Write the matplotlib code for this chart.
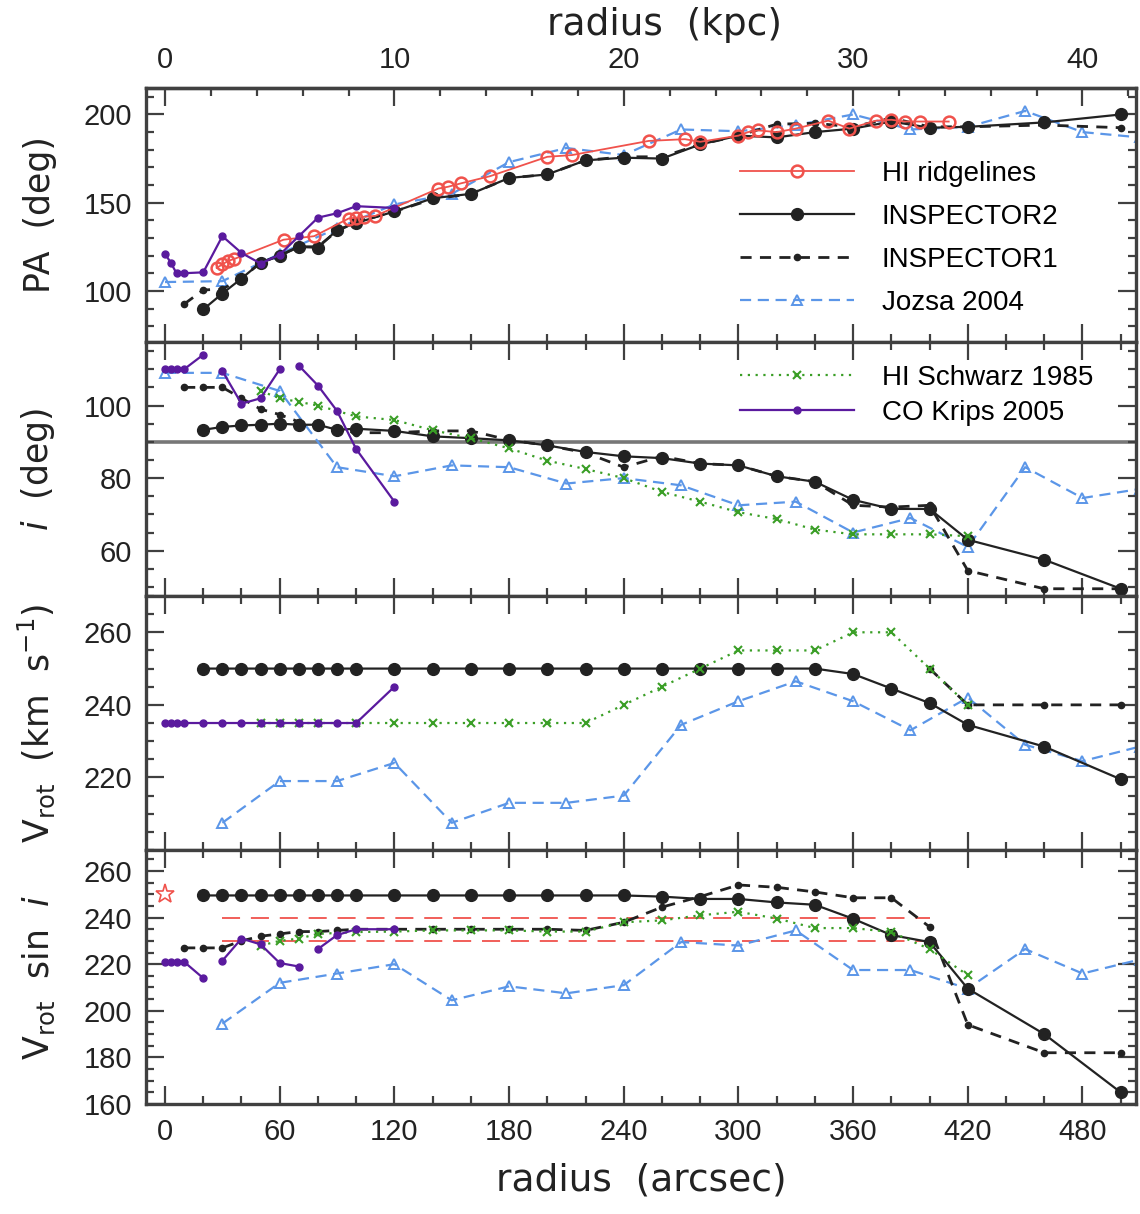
import numpy as np
import matplotlib
matplotlib.use('Agg')
import matplotlib.pyplot as plt
from matplotlib.ticker import MultipleLocator, FixedLocator

plt.rcParams['font.family'] = ['Liberation Sans', 'DejaVu Sans']
plt.rcParams['mathtext.fontset'] = 'custom'
plt.rcParams['mathtext.rm'] = 'DejaVu Sans'
plt.rcParams['mathtext.it'] = 'DejaVu Sans:italic'

nan = np.nan

# radii (arcsec) of each data set
r_insp2 = [20, 30, 40, 50, 60, 70, 80, 90, 100, 120, 140, 160, 180, 200, 220, 240,
           260, 280, 300, 320, 340, 360, 380, 400, 420, 460, 500]
r_insp1 = [10] + r_insp2
r_jozsa = [0, 30, 60, 90, 120, 150, 180, 210, 240, 270, 300, 330, 360, 390, 420, 450, 480, 510]
r_schwarz = [50, 60, 70, 80, 100, 120, 140, 160, 180, 200, 220, 240, 260, 280, 300, 320,
             340, 360, 380, 400, 420]
r_krips = [0, 3, 6, 10, 20, 30, 40, 50, 60, 70, 80, 90, 100, 120]
r_ridge = [27, 30, 33, 36, 62, 78, 96, 100, 104, 110, 143, 148, 155, 170, 200, 213, 253,
           272, 280, 300, 305, 310, 320, 330, 347, 358, 372, 380, 387, 395, 410]

# position angle (deg)
pa_ridge = [113, 115, 117, 118, 129, 131, 141, 141.5, 142, 142.5, 158, 159, 161, 165, 176,
            177, 185, 186, 184.5, 188, 190, 191, 190, 192, 196.5, 192, 196.5, 197, 196, 196, 196]
pa_insp2 = [89.5, 98.5, 107, 116, 120, 125, 124.5, 134.5, 138.5, 145, 152.5, 155, 164, 166,
            174, 175.5, 175, 183, 188, 187, 190, 192, 196, 192.5, 193, 195.5, 200]
pa_insp1 = [92.5, 100.5, 101, 107, 116, 120, 125, 125, 134, 139, 145, 152, 155, 164, 166,
            174, 176, 176, 183, 188, 194.5, 195, 193, 198, 193, 193, 194, 192.5]
pa_jozsa = [105, 105.5, 121, 135.5, 149, 155, 173, 181, 177, 191.5, 190.5, 194, 200, 191.5,
            193, 202, 190, 187]
pa_krips = [121, 116, 110, 110, 110.5, 131, 121.5, 115.5, 120.5, 131, 141.5, 144, 148, 147]

# inclination (deg)
inc_insp2 = [93.3, 94.1, 94.5, 94.7, 95, 94.7, 94.7, 93.3, 93.6, 93, 91.5, 91, 90.4, 89, 87.2,
             86, 85.5, 84, 83.5, 80.5, 79, 74, 71.5, 71.5, 63, 57.5, 49.5]
inc_insp1 = [105, 105, 105, 102, 99, 97.5, 95.5, 94.5, 93.5, 92.5, 92.5, 93, 93, 90.5, 89, 87,
             83, 86, 84, 83.5, 80.5, 79, 72.5, 72, 72.5, 54.5, 49.5, 49.5]
inc_jozsa = [109, 109, 104, 83, 80.5, 83.5, 83, 78.5, 80, 78, 72.5, 73.5, 65, 69, 61, 83, 74.5, 77]
inc_schwarz = [104, 102, 101, 100, 97, 96, 93.2, 91, 88.2, 84.8, 82.5, 80, 76.2, 73.5, 70.6,
               68.7, 65.8, 64.5, 64.5, 64.5, 64]
inc_krips = [110, 110, 110, 110, 114, 109.5, 100.5, 102, 110, 111, 105.5, 98.5, 88, 73.5]
i_edge_on = 90

# rotation velocity (km/s)
v_insp2 = [250, 250, 250, 250, 250, 250, 250, 250, 250, 250, 250, 250, 250, 250, 250, 250,
           250, 250, 250, 250, 250, 248.5, 244.5, 240.5, 234.5, 228.5, 219.5]
v_insp1 = [nan, nan, nan, nan, nan, nan, nan, nan, nan, nan, nan, nan, nan, nan, nan, nan,
           nan, nan, nan, nan, nan, nan, nan, nan, 250, 240, 240, 240]
v_jozsa = [nan, 207.5, 219, 219, 224, 207.5, 213, 213, 215, 234.5, 241, 246.5, 241, 233,
           242, 229, 224.5, 228.5]
v_schwarz = [235, 235, 235, 235, 235, 235, 235, 235, 235, 235, 235, 240, 245, 250, 255, 255,
             255, 260, 260, 250, 240]
v_krips = [235, 235, 235, 235, 235, 235, 235, 235, 235, 235, 235, 235, 235, 245]

# projected velocity (km/s)
vs_insp2 = [249.5, 249.5, 249.5, 249.5, 249.5, 249.5, 249.5, 249.5, 249.5, 249.5, 249.5, 249.5,
            249.5, 249.5, 249.5, 249.5, 249, 248, 248, 246.5, 245.5, 239.5, 232.5, 229.5,
            209.5, 190, 165]
vs_insp1 = [227, 227, 227, 230, 232, 233, 234, 234, 234.5, 235, 235, 235, 235, 235, 235, 234.5,
            238, 244.5, 249, 254, 253, 251, 248.5, 248.5, 236, 194, 182, 182]
vs_jozsa = [nan, 194.5, 212, 216, 220, 204.5, 210.5, 207.5, 211, 229.5, 228, 234.5, 217.5,
            217.5, 209.5, 226.5, 216, 222]
vs_schwarz = [228, 230, 231, 233, 233.8, 234, 234.5, 234.5, 234.5, 234, 234, 238, 238.8, 241,
              242.5, 239.6, 235.5, 235.5, 233.8, 226.5, 215.3]
vs_krips = [221, 221, 221, 221, 214, 221.5, 231, 228.5, 220.5, 219, 226.5, 232.5, 235, 235]
vs_band = [230, 240]
band_r = [30, 400]
star_r = [0]
star_v = [250]

# radii after which the CO curve is not connected
krips_gaps_inc = [20, 60]
krips_gaps_vs = [20, 70]

kpc_per_arcsec = 1 / 12.0
kpc_ticks = [0, 10, 20, 30, 40]
kpc_minor = list(range(0, 43, 2))

# styles
c_red = '#f0524c'
c_black = '#222222'
c_blue = '#5b96e8'
c_green = '#3a9e26'
c_purple = '#5a1a9e'
c_frame = '#404040'

sty_ridge = dict(color=c_red, lw=1.3, marker='o', ms=8.5, mfc='none', mew=1.8, zorder=6)
sty_insp2 = dict(color=c_black, lw=1.6, marker='o', ms=8.5, zorder=4)
sty_insp1 = dict(color=c_black, lw=2.0, ls=(0, (4, 3)), marker='o', ms=4.5, zorder=3)
sty_jozsa = dict(color=c_blue, lw=1.6, ls=(0, (5, 3)), marker='^', ms=7, mfc='none', mew=1.4,
                 zorder=2)
sty_schwarz = dict(color=c_green, lw=1.6, ls=(0, (1, 2.5)), marker='x', ms=6, mew=1.5, zorder=5)
sty_krips = dict(color=c_purple, lw=1.6, marker='o', ms=5, zorder=7)


def with_gaps(r, v, gaps):
    # put a NaN after each radius in gaps so the line is broken there
    rr, vv = [], []
    for x, y in zip(r, v):
        rr.append(x)
        vv.append(y)
        if x in gaps:
            rr.append(nan)
            vv.append(nan)
    return rr, vv


def style_axis(ax, yminor, ylim, yticks):
    ax.set_xlim(-10, 508)
    ax.set_ylim(*ylim)
    ax.set_yticks(yticks)
    ax.xaxis.set_major_locator(MultipleLocator(60))
    ax.xaxis.set_minor_locator(MultipleLocator(20))
    ax.yaxis.set_minor_locator(MultipleLocator(yminor))
    ax.tick_params(which='both', direction='in', top=True, right=True, width=1.6,
                   color=c_frame, labelsize=21, pad=10, labelcolor='#222222')
    ax.tick_params(which='major', length=13)
    ax.tick_params(which='minor', length=6)
    for sp in ax.spines.values():
        sp.set_linewidth(2.4)
        sp.set_color(c_frame)
    ax.yaxis.set_label_coords(-0.09, 0.5)


fig, axes = plt.subplots(4, 1, figsize=(11.4, 12.14), dpi=100, sharex=True)
fig.subplots_adjust(left=0.128, right=0.9965, top=0.9275, bottom=0.0906, hspace=0)
ax1, ax2, ax3, ax4 = axes
label_font = dict(family='DejaVu Sans', size=25, color='#222222')
xlabel_font = dict(family='DejaVu Sans', size=27, color='#222222')

# PA panel
h_jozsa, = ax1.plot(r_jozsa, pa_jozsa, **sty_jozsa)
h_insp1, = ax1.plot(r_insp1, pa_insp1, **sty_insp1)
h_insp2, = ax1.plot(r_insp2, pa_insp2, **sty_insp2)
h_ridge, = ax1.plot(r_ridge, pa_ridge, **sty_ridge)
ax1.plot(r_krips, pa_krips, **sty_krips)
style_axis(ax1, 10, (71, 215), [100, 150, 200])
ax1.tick_params(axis='x', which='both', top=False)
ax1.set_ylabel('PA  (deg)', **label_font)
ax1.legend([h_ridge, h_insp2, h_insp1, h_jozsa],
           ['HI ridgelines', 'INSPECTOR2', 'INSPECTOR1', 'Jozsa 2004'],
           loc='upper left', bbox_to_anchor=(0.6, 0.712), frameon=False, fontsize=20,
           handlelength=4.1, handletextpad=1.0, labelspacing=0.61, borderaxespad=0,
           borderpad=0)

sec = ax1.secondary_xaxis('top', functions=(lambda x: x * kpc_per_arcsec,
                                            lambda k: k / kpc_per_arcsec))
sec.xaxis.set_major_locator(FixedLocator(kpc_ticks))
sec.xaxis.set_minor_locator(FixedLocator(kpc_minor))
sec.tick_params(which='both', direction='in', width=1.6, color=c_frame, labelsize=21, pad=10,
                labelcolor='#222222')
sec.tick_params(which='major', length=13)
sec.tick_params(which='minor', length=6)
sec.spines['top'].set_linewidth(2.4)
sec.spines['top'].set_color(c_frame)
sec.set_xlabel('radius  (kpc)', labelpad=8, **xlabel_font)
sec.xaxis.label.set_x(0.524)

# inclination panel
ax2.axhline(i_edge_on, color='#777777', lw=2.6, zorder=1.5)
ax2.plot(r_jozsa, inc_jozsa, **sty_jozsa)
ax2.plot(r_insp1, inc_insp1, **sty_insp1)
ax2.plot(r_insp2, inc_insp2, **sty_insp2)
h_schwarz, = ax2.plot(r_schwarz, inc_schwarz, **sty_schwarz)
h_krips, = ax2.plot(*with_gaps(r_krips, inc_krips, krips_gaps_inc), **sty_krips)
style_axis(ax2, 5, (47.5, 117.5), [60, 80, 100])
ax2.set_ylabel(r'$i$  (deg)', **label_font)
ax2.legend([h_schwarz, h_krips], ['HI Schwarz 1985', 'CO Krips 2005'],
           loc='upper left', bbox_to_anchor=(0.6, 0.91), frameon=False, fontsize=20,
           handlelength=4.1, handletextpad=1.0, labelspacing=0.32, borderaxespad=0,
           borderpad=0)

# rotation velocity panel
ax3.plot(r_jozsa, v_jozsa, **sty_jozsa)
ax3.plot(r_insp1, v_insp1, **sty_insp1)
ax3.plot(r_insp2, v_insp2, **sty_insp2)
ax3.plot(r_schwarz, v_schwarz, **sty_schwarz)
ax3.plot(r_krips, v_krips, **sty_krips)
style_axis(ax3, 5, (200, 270), [220, 240, 260])
ax3.set_ylabel(r'V$_{\rm rot}$  (km  s$^{-1}$)', **label_font)

# projected velocity panel
ax4.hlines(vs_band, band_r[0], band_r[1], colors=c_red, linestyles=(0, (10, 6)), lw=1.3,
           zorder=1.5)
ax4.plot(star_r, star_v, ls='none', marker='*', ms=14, mfc='none', mec=c_red, mew=1.2)
ax4.plot(r_jozsa, vs_jozsa, **sty_jozsa)
ax4.plot(r_insp1, vs_insp1, **sty_insp1)
ax4.plot(r_insp2, vs_insp2, **sty_insp2)
ax4.plot(r_schwarz, vs_schwarz, **sty_schwarz)
ax4.plot(*with_gaps(r_krips, vs_krips, krips_gaps_vs), **sty_krips)
style_axis(ax4, 5, (160, 269), [160, 180, 200, 220, 240, 260])
ax4.set_ylabel(r'V$_{\rm rot}$  sin  $i$', **label_font)
ax4.set_xlabel('radius  (arcsec)', labelpad=12, **xlabel_font)

fig.savefig('out.png', dpi=100)
